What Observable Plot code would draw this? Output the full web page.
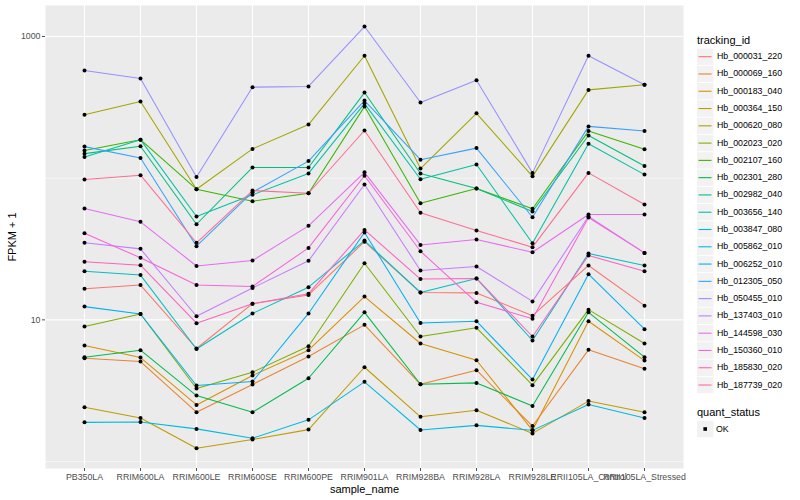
<!DOCTYPE html>
<html><head><meta charset="utf-8">
<script src="https://cdn.jsdelivr.net/npm/d3@7"></script>
<script src="https://cdn.jsdelivr.net/npm/@observablehq/plot@0.6"></script>
<style>
body{margin:0;background:#fff;font-family:"Liberation Sans",Arial,Helvetica,sans-serif;}
#wrap{position:relative;width:800px;height:500px;overflow:hidden;}
#chart{position:absolute;left:0;top:0;}
#legend{position:absolute;left:0;top:0;width:800px;height:500px;}
.ltitle{position:absolute;font-size:11px;line-height:13px;color:#000;white-space:nowrap;}
.ltext{position:absolute;font-size:8.8px;line-height:17px;color:#000;white-space:nowrap;}
</style></head><body>
<div id="wrap"><div id="chart"></div><div id="legend"></div></div>
<script>
const samples = ["PB350LA","RRIM600LA","RRIM600LE","RRIM600SE","RRIM600PE","RRIM901LA","RRIM928BA","RRIM928LA","RRIM928LE","RRII105LA_Control","RRII105LA_Stressed"];
const trackingIds = ["Hb_000031_220","Hb_000069_160","Hb_000183_040","Hb_000364_150","Hb_000620_080","Hb_002023_020","Hb_002107_160","Hb_002301_280","Hb_002982_040","Hb_003656_140","Hb_003847_080","Hb_005862_010","Hb_006252_010","Hb_012305_050","Hb_050455_010","Hb_137403_010","Hb_144598_030","Hb_150360_010","Hb_185830_020","Hb_187739_020"];
const colors = ["#F8766D","#EA8331","#D89000","#C09B00","#A3A500","#7CAE00","#39B600","#00BB4E","#00BF7D","#00C1A3","#00BFC4","#00BAE0","#00B0F6","#35A2FF","#9590FF","#C77CFF","#E76BF3","#FA62DB","#FF62BC","#FF6C91"];
// FPKM + 1 per sample (order of samples)
const Hb_000031_220 = [16.6, 17.6, 6.28, 13.0, 15.0, 35.6, 15.6, 15.5, 10.7, 24.2, 12.6];
const Hb_000069_160 = [5.36, 5.08, 2.23, 3.50, 5.51, 9.22, 3.51, 4.41, 1.78, 6.14, 4.51];
const Hb_000183_040 = [6.59, 5.42, 2.51, 4.05, 6.11, 14.6, 6.81, 5.19, 1.66, 9.78, 5.16];
const Hb_000364_150 = [2.42, 2.03, 1.24, 1.43, 1.68, 4.63, 2.07, 2.30, 1.58, 2.67, 2.23];
const Hb_000620_080 = [280, 348, 83.6, 161, 239, 731, 117, 287, 103, 420, 456];
const Hb_002023_020 = [8.97, 11.0, 3.28, 4.27, 6.51, 25.1, 7.63, 8.79, 3.46, 11.8, 6.81];
const Hb_002107_160 = [157, 187, 83.6, 68.8, 78.3, 320, 66.6, 84.6, 60.8, 215, 160];
const Hb_002301_280 = [5.45, 6.11, 2.92, 2.23, 3.87, 11.3, 3.51, 3.59, 2.47, 11.3, 5.45];
const Hb_002982_040 = [149, 168, 47.3, 119, 119, 402, 108, 84.6, 58.2, 200, 122];
const Hb_003656_140 = [141, 187, 53.6, 76.3, 108, 336, 98.3, 125, 34.7, 175, 106];
const Hb_003847_080 = [22.0, 20.7, 6.23, 11.1, 17.0, 36.3, 15.6, 19.6, 7.15, 29.4, 24.2];
const Hb_005862_010 = [1.89, 1.90, 1.70, 1.46, 1.97, 3.65, 1.67, 1.80, 1.66, 2.53, 2.03];
const Hb_006252_010 = [12.4, 11.0, 3.44, 3.67, 11.1, 41.4, 9.50, 9.78, 3.79, 21.0, 8.59];
const Hb_012305_050 = [167, 139, 33.1, 79.6, 132, 353, 135, 163, 53.0, 232, 215];
const Hb_050455_010 = [575, 505, 102, 439, 444, 1176, 342, 491, 109, 731, 456];
const Hb_137403_010 = [35.0, 31.7, 10.6, 16.8, 26.1, 90.2, 22.3, 23.8, 13.5, 53.6, 29.7];
const Hb_144598_030 = [61.1, 49.2, 24.0, 26.2, 46.1, 110, 33.8, 36.9, 30.0, 55.4, 55.4];
const Hb_150360_010 = [40.9, 27.4, 17.6, 17.2, 32.2, 104, 30.5, 13.3, 10.2, 52.8, 29.7];
const Hb_185830_020 = [25.7, 24.3, 9.47, 13.0, 15.3, 43.1, 19.4, 19.6, 7.63, 28.5, 22.0];
const Hb_187739_020 = [97.9, 105, 35.0, 81.8, 78.3, 217, 57.0, 42.7, 32.6, 109, 65.2];
const yTicks = [10, 1000];
const yMinor = [1, 100];

const seriesValues = [Hb_000031_220,Hb_000069_160,Hb_000183_040,Hb_000364_150,Hb_000620_080,Hb_002023_020,Hb_002107_160,Hb_002301_280,Hb_002982_040,Hb_003656_140,Hb_003847_080,Hb_005862_010,Hb_006252_010,Hb_012305_050,Hb_050455_010,Hb_137403_010,Hb_144598_030,Hb_150360_010,Hb_185830_020,Hb_187739_020];
const data = [];
trackingIds.forEach((id, i) => samples.forEach((s, j) => data.push({id, sample: s, value: seriesValues[i][j], quant_status: "OK"})));

const chart = Plot.plot({
  width: 690, height: 500,
  marginLeft: 45, marginRight: 7, marginTop: 5, marginBottom: 32,
  style: {fontFamily: '"Liberation Sans", Arial, Helvetica, sans-serif', fontSize: "8.8px", background: "white", overflow: "visible"},
  x: {type: "point", domain: samples, padding: 0.6},
  y: {type: "log", domain: [0.893, 1655]},
  color: {type: "ordinal", domain: trackingIds, range: colors},
  marks: [
    Plot.frame({fill: "#EBEBEB", stroke: "none"}),
    Plot.ruleY(yMinor, {stroke: "white", strokeWidth: 0.55}),
    Plot.ruleY(yTicks, {stroke: "white", strokeWidth: 1.1}),
    Plot.ruleX(samples, {stroke: "white", strokeWidth: 1.1}),
    Plot.line(data, {x: "sample", y: "value", z: "id", stroke: "id", strokeWidth: 1.05}),
    Plot.dot(data, {x: "sample", y: "value", r: 2, fill: "black", stroke: "none"}),
    Plot.axisY(yTicks, {tickSize: 3, tickPadding: 2, tickFormat: d => String(d), label: null, color: "#4D4D4D", fontSize: 8.8}),
    Plot.axisX({tickSize: 3, tickPadding: 2, label: null, color: "#4D4D4D", fontSize: 8.8}),
    Plot.text(["FPKM + 1"], {text: d => d, frameAnchor: "left", dx: -33, rotate: -90, textAnchor: "middle", lineAnchor: "middle", fontSize: 11, fill: "black"}),
    Plot.text(["sample_name"], {text: d => d, frameAnchor: "bottom", dy: 21, textAnchor: "middle", lineAnchor: "middle", fontSize: 11, fill: "black"})
  ]
});
document.getElementById("chart").appendChild(chart);

// legend (ggplot-style keys)
const leg = document.getElementById("legend");
const NS = "http://www.w3.org/2000/svg";
const keySvg = document.createElementNS(NS, "svg");
keySvg.setAttribute("width", "800");
keySvg.setAttribute("height", "500");
keySvg.style.position = "absolute";
keySvg.style.left = "0";
keySvg.style.top = "0";
leg.appendChild(keySvg);
function svgEl(tag, attrs) {
  const e = document.createElementNS(NS, tag);
  for (const k in attrs) e.setAttribute(k, attrs[k]);
  keySvg.appendChild(e);
  return e;
}
function addText(cls, left, top, txt) {
  const d = document.createElement("div");
  d.className = cls;
  d.style.left = left + "px";
  d.style.top = top + "px";
  d.textContent = txt;
  leg.appendChild(d);
}
addText("ltitle", 697, 34, "tracking_id");
trackingIds.forEach((id, i) => {
  const cy = 56.7 + i * 17.28;
  svgEl("rect", {x: 697, y: cy - 8.2, width: 16.4, height: 16.4, fill: "#F2F2F2"});
  svgEl("line", {x1: 698.5, x2: 711.5, y1: cy, y2: cy, stroke: colors[i], "stroke-width": 1.1});
  addText("ltext", 717, cy - 8.5, id);
});
addText("ltitle", 697, 405.5, "quant_status");
svgEl("rect", {x: 697, y: 429 - 8.2, width: 16.4, height: 16.4, fill: "#F2F2F2"});
svgEl("rect", {x: 703.4, y: 427.2, width: 3.6, height: 3.6, fill: "black"});
addText("ltext", 716, 429 - 8.5, "OK");
</script>
</body></html>
